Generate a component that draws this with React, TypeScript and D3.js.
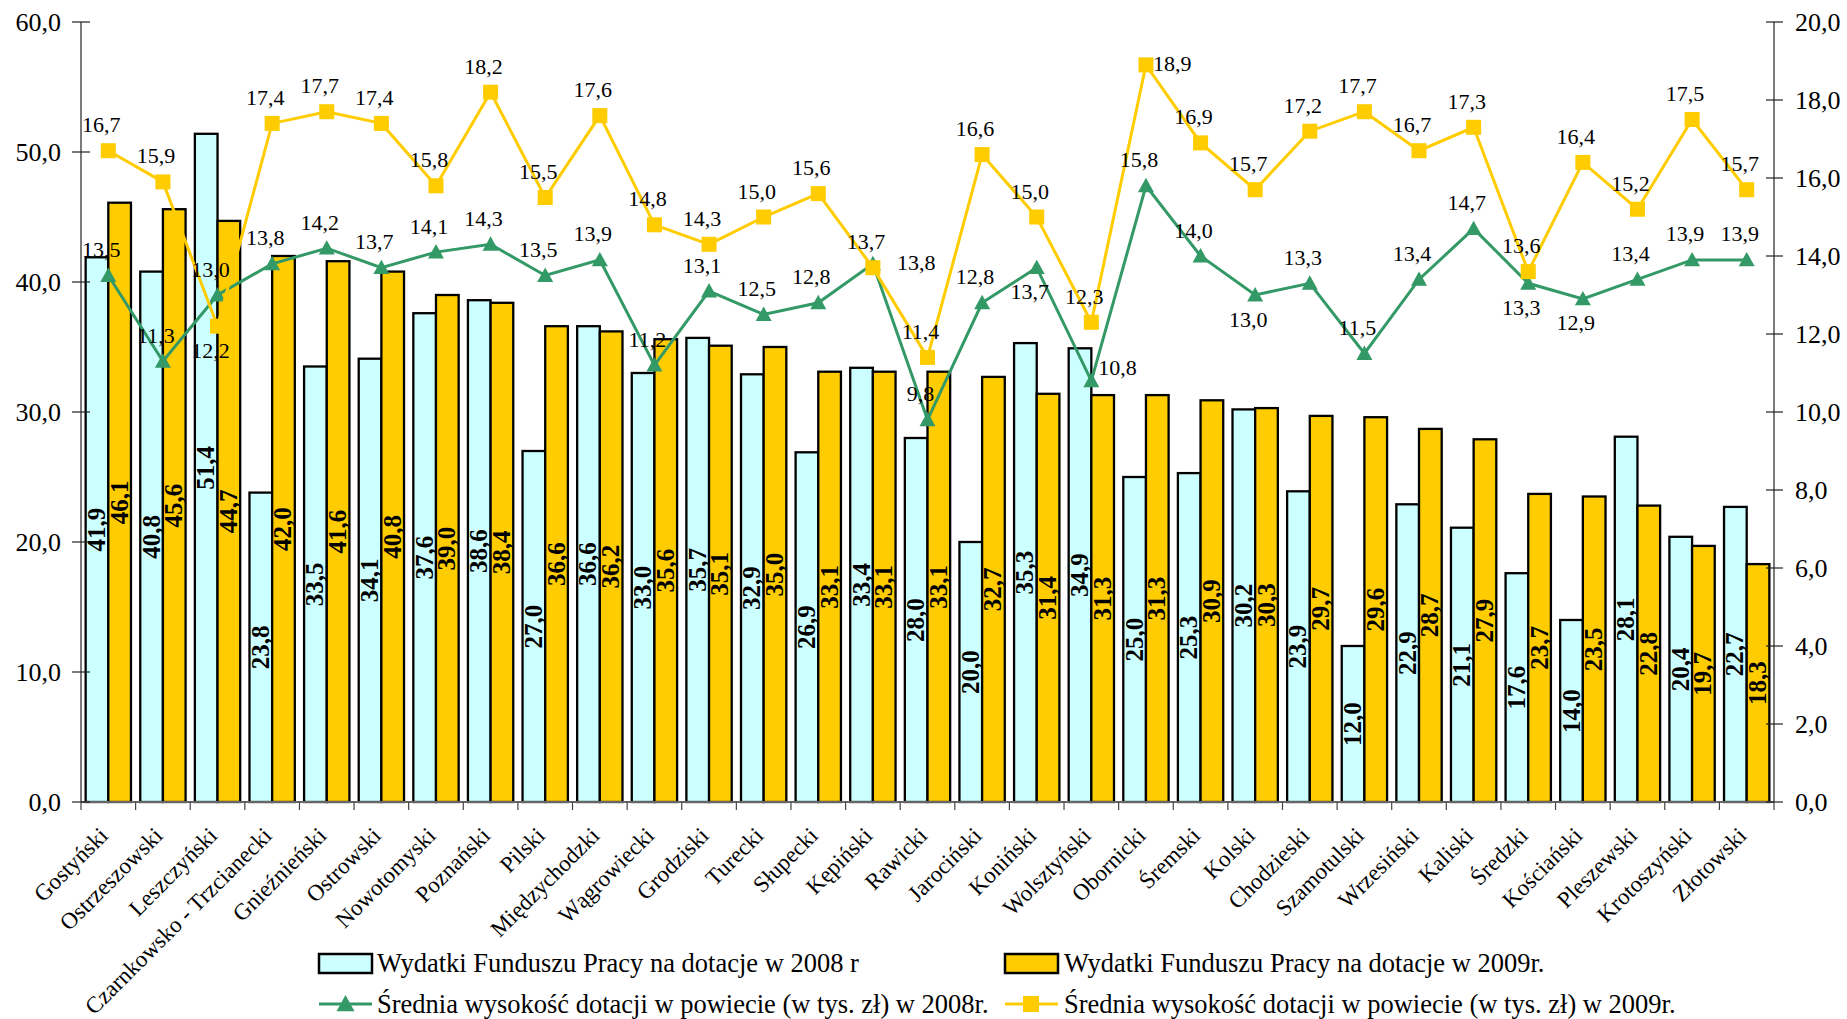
import React from "react";
import * as d3 from "d3";

const categories = [
  "Gostyński", "Ostrzeszowski", "Leszczyński", "Czarnkowsko - Trzcianecki", "Gnieźnieński",
  "Ostrowski", "Nowotomyski", "Poznański", "Pilski", "Międzychodzki", "Wągrowiecki",
  "Grodziski", "Turecki", "Słupecki", "Kępiński", "Rawicki", "Jarociński", "Koniński",
  "Wolsztyński", "Obornicki", "Śremski", "Kolski", "Chodzieski", "Szamotulski",
  "Wrzesiński", "Kaliski", "Średzki", "Kościański", "Pleszewski", "Krotoszyński", "Złotowski",
];

const spend2008 = [
  41.9, 40.8, 51.4, 23.8, 33.5, 34.1, 37.6, 38.6, 27.0, 36.6, 33.0, 35.7, 32.9, 26.9, 33.4, 28.0,
  20.0, 35.3, 34.9, 25.0, 25.3, 30.2, 23.9, 12.0, 22.9, 21.1, 17.6, 14.0, 28.1, 20.4, 22.7,
];
const spend2009 = [
  46.1, 45.6, 44.7, 42.0, 41.6, 40.8, 39.0, 38.4, 36.6, 36.2, 35.6, 35.1, 35.0, 33.1, 33.1, 33.1,
  32.7, 31.4, 31.3, 31.3, 30.9, 30.3, 29.7, 29.6, 28.7, 27.9, 23.7, 23.5, 22.8, 19.7, 18.3,
];
const avg2008 = [
  13.5, 11.3, 13.0, 13.8, 14.2, 13.7, 14.1, 14.3, 13.5, 13.9, 11.2, 13.1, 12.5, 12.8, 13.8, 9.8,
  12.8, 13.7, 10.8, 15.8, 14.0, 13.0, 13.3, 11.5, 13.4, 14.7, 13.3, 12.9, 13.4, 13.9, 13.9,
];
const avg2009 = [
  16.7, 15.9, 12.2, 17.4, 17.7, 17.4, 15.8, 18.2, 15.5, 17.6, 14.8, 14.3, 15.0, 15.6, 13.7, 11.4,
  16.6, 15.0, 12.3, 18.9, 16.9, 15.7, 17.2, 17.7, 16.7, 17.3, 13.6, 16.4, 15.2, 17.5, 15.7,
];
// label placement: a = above, b = below, r = right, R = further right, q = right and up
const place2008 = [
  "a", "a", "a", "a", "a", "a", "a", "a", "a", "a", "a", "a", "a", "a", "R", "a",
  "a", "b", "q", "a", "a", "b", "a", "a", "a", "a", "b", "b", "a", "a", "a",
];
const place2009 = [
  "a", "a", "b", "a", "a", "a", "a", "a", "a", "a", "a", "a", "a", "a", "a", "a",
  "a", "a", "a", "r", "a", "a", "a", "a", "a", "a", "a", "a", "a", "a", "a",
];

const leftTicks = [0, 10, 20, 30, 40, 50, 60];
const rightTicks = [0, 2, 4, 6, 8, 10, 12, 14, 16, 18, 20];

const legendItems = [
  "Wydatki Funduszu Pracy na dotacje w 2008 r",
  "Wydatki Funduszu Pracy na dotacje w 2009r.",
  "Średnia wysokość dotacji w powiecie (w tys. zł) w 2008r.",
  "Średnia wysokość dotacji w powiecie (w tys. zł) w 2009r.",
];

const CYAN = "#CCFFFF";
const YELLOW = "#FFCC00";
const GREEN = "#339966";
const FONT = "'Liberation Serif', 'Times New Roman', serif";

const fmt = (v: number) => v.toFixed(1).replace(".", ",");

export default function App() {
  const W = 1847, H = 1019;
  const x0 = 81, x1 = 1774, yTop = 22, yBot = 802;

  const x = d3.scaleBand<string>().domain(categories).range([x0, x1]).paddingInner(0.17).paddingOuter(0.085);
  const sub = d3.scaleBand<string>().domain(["a", "b"]).range([0, x.bandwidth()]);
  const yL = d3.scaleLinear().domain([0, 60]).range([yBot, yTop]);
  const yR = d3.scaleLinear().domain([0, 20]).range([yBot, yTop]);
  const step = x.step();
  const cx = (i: number) => (x(categories[i]) as number) + x.bandwidth() / 2;

  const line = d3.line<number>().x((_, i) => cx(i)).y((d) => yR(d));

  const lineLabel = (v: number, i: number, p: string, key: string) => {
    const px = cx(i), py = yR(v);
    if (p === "r" || p === "R" || p === "q") {
      const ddx = p === "R" ? 24 : 7;
      const ddy = p === "q" ? -6 : 6;
      return (
        <text key={key} x={px + ddx} y={py + ddy} textAnchor="start" fontSize={22}>{fmt(v)}</text>
      );
    }
    const dy = p === "b" ? 24 : -26;
    return (
      <text key={key} x={px - 7} y={py + dy + 7.5} textAnchor="middle" fontSize={22}>{fmt(v)}</text>
    );
  };

  const tri = (px: number, py: number, s = 15) =>
    `M${px},${py - s * 0.5} L${px + s / 2},${py + s * 0.4} L${px - s / 2},${py + s * 0.4} Z`;

  return (
    <svg width={W} height={H} style={{ position: "absolute", left: 0, top: 0, background: "#fff" }}
      fontFamily={FONT}>
      {/* bars */}
      {categories.map((c, i) => {
        const bx = x(c) as number;
        const bw = sub.bandwidth();
        return (
          <g key={"b" + i}>
            <rect x={bx + (sub("a") as number)} y={yL(spend2008[i])} width={bw}
              height={yBot - yL(spend2008[i])} fill={CYAN} stroke="#000" strokeWidth={2.3} />
            <rect x={bx + (sub("b") as number)} y={yL(spend2009[i])} width={bw}
              height={yBot - yL(spend2009[i])} fill={YELLOW} stroke="#000" strokeWidth={2.3} />
          </g>
        );
      })}

      {/* axes */}
      <line x1={x0} x2={x0} y1={yTop} y2={yBot} stroke="#222" strokeWidth={1.2} />
      <line x1={x1} x2={x1} y1={yTop} y2={yBot} stroke="#222" strokeWidth={1.2} />
      <line x1={x0} x2={x1} y1={yBot} y2={yBot} stroke="#666" strokeWidth={2} />
      {leftTicks.map((t) => (
        <g key={"lt" + t}>
          <line x1={x0 - 9} x2={x0 + 9} y1={yL(t)} y2={yL(t)} stroke="#222" strokeWidth={1.2} />
          <text x={61} y={yL(t) + 9} textAnchor="end" fontSize={26}>
            {fmt(t)}
          </text>
        </g>
      ))}
      {rightTicks.map((t) => (
        <g key={"rt" + t}>
          <line x1={x1 - 8} x2={x1 + 9} y1={yR(t)} y2={yR(t)} stroke="#222" strokeWidth={1.2} />
          <text x={1795} y={yR(t) + 9} textAnchor="start" fontSize={26}>
            {fmt(t)}
          </text>
        </g>
      ))}
      {d3.range(categories.length + 1).map((i) => (
        <line key={"xt" + i} x1={x0 + i * step} x2={x0 + i * step} y1={yBot} y2={yBot + 8}
          stroke="#444" strokeWidth={1.2} />
      ))}
      {categories.map((c, i) => (
        <text key={"xl" + i} transform={`translate(${cx(i) + 1},${837}) rotate(-45)`}
          textAnchor="end" fontSize={23}>
          {c}
        </text>
      ))}

      {/* bar labels */}
      {categories.map((c, i) => {
        const bx = x(c) as number;
        const bw = sub.bandwidth();
        const ax = bx + (sub("a") as number) + bw / 2;
        const bxx = bx + (sub("b") as number) + bw / 2;
        const ay = (yL(spend2008[i]) + yBot) / 2;
        const by = (yL(spend2009[i]) + yBot) / 2;
        return (
          <g key={"bl" + i} fontWeight="bold" fontSize={25}>
            <text transform={`translate(${ax + 8},${ay}) rotate(-90)`} textAnchor="middle">{fmt(spend2008[i])}</text>
            <text transform={`translate(${bxx + 8},${by}) rotate(-90)`} textAnchor="middle">{fmt(spend2009[i])}</text>
          </g>
        );
      })}

      {/* lines */}
      <path d={line(avg2008) as string} fill="none" stroke={GREEN} strokeWidth={3} />
      {avg2008.map((v, i) => (
        <path key={"gm" + i} d={tri(cx(i), yR(v), 16)} fill={GREEN} />
      ))}
      <path d={line(avg2009) as string} fill="none" stroke={YELLOW} strokeWidth={3} />
      {avg2009.map((v, i) => (
        <rect key={"ym" + i} x={cx(i) - 7.5} y={yR(v) - 7.5} width={15} height={15} fill={YELLOW} />
      ))}
      {avg2008.map((v, i) => lineLabel(v, i, place2008[i], "gl" + i))}
      {avg2009.map((v, i) => lineLabel(v, i, place2009[i], "yl" + i))}

      {/* legend */}
      <g fontSize={26.5}>
        <rect x={319} y={954} width={53} height={19} fill={CYAN} stroke="#000" strokeWidth={2.5} />
        <text x={377} y={972}>{legendItems[0]}</text>
        <rect x={1005} y={954} width={53} height={19} fill={YELLOW} stroke="#000" strokeWidth={2.5} />
        <text x={1064} y={972}>{legendItems[1]}</text>
        <line x1={319} x2={372} y1={1004} y2={1004} stroke={GREEN} strokeWidth={3} />
        <path d={tri(345.5, 1004, 18)} fill={GREEN} />
        <text x={377} y={1013}>{legendItems[2]}</text>
        <line x1={1005} x2={1058} y1={1004} y2={1004} stroke={YELLOW} strokeWidth={3} />
        <rect x={1023} y={996} width={16} height={16} fill={YELLOW} />
        <text x={1064} y={1013}>{legendItems[3]}</text>
      </g>
    </svg>
  );
}
